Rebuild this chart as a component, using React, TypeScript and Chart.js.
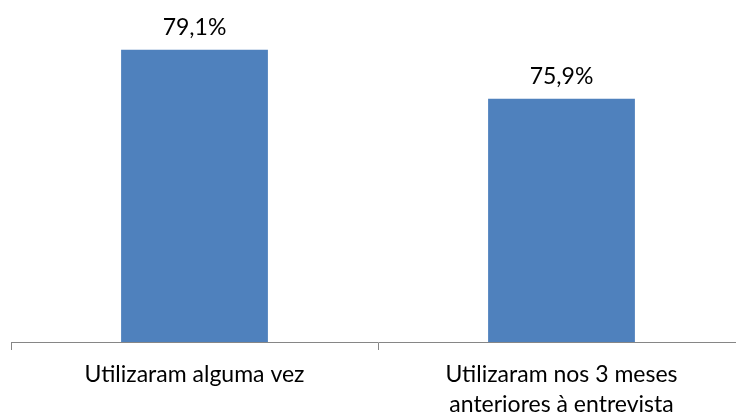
import React, { useEffect, useRef } from "react";
import { Chart, registerables } from "chart.js";

Chart.register(...registerables);

const categories: (string | string[])[] = [
  "Utilizaram alguma vez",
  ["Utilizaram nos 3 meses", "anteriores à entrevista"],
];
const values: number[] = [79.1, 75.9];
const valueLabels: string[] = ["79,1%", "75,9%"];

const FONT = "Lato, 'Open Sans', sans-serif";

const dataLabelPlugin = {
  id: "dataLabels",
  afterDatasetsDraw(chart: any) {
    const ctx = chart.ctx;
    const meta = chart.getDatasetMeta(0);
    ctx.save();
    ctx.font = `23px ${FONT}`;
    ctx.fillStyle = "#000000";
    ctx.textAlign = "center";
    ctx.textBaseline = "alphabetic";
    meta.data.forEach((bar: any, i: number) => {
      ctx.fillText(valueLabels[i], bar.x, bar.y - 15);
    });
    ctx.restore();
  },
};

export default function App() {
  const ref = useRef<HTMLCanvasElement>(null);
  useEffect(() => {
    document.body.style.overflow = "hidden";
    document.documentElement.style.overflow = "hidden";
    const chart = new Chart(ref.current!, {
      type: "bar",
      data: {
        labels: categories,
        datasets: [
          {
            data: values,
            backgroundColor: "#4F81BD",
            borderWidth: 0,
            barPercentage: 0.4,
            categoryPercentage: 1,
          },
        ],
      },
      options: {
        animation: false,
        responsive: false,
        maintainAspectRatio: false,
        layout: { padding: { left: 11, right: 15, top: 36, bottom: 0 } },
        plugins: {
          legend: { display: false },
          tooltip: { enabled: false },
        },
        scales: {
          x: {
            offset: true,
            grid: {
              offset: true,
              drawOnChartArea: false,
              drawTicks: true,
              tickLength: 8,
              color: "#868686",
              lineWidth: 1,
            },
            border: { display: true, color: "#868686", width: 1 },
            ticks: {
              color: "#000000",
              font: { family: FONT, size: 23, lineHeight: 1.3 },
              padding: 10,
              maxRotation: 0,
              autoSkip: false,
            },
            afterFit: (scale: any) => {
              scale.height = 75;
            },
          },
          y: {
            display: false,
            min: 60,
            max: 80,
          },
        },
      },
      plugins: [dataLabelPlugin],
    });
    return () => chart.destroy();
  }, []);
  return (
    <div style={{ position: "fixed", left: 0, top: 0, width: 760, height: 417 }}>
      <canvas ref={ref} width={760} height={417} style={{ width: 760, height: 417, display: "block" }} />
    </div>
  );
}
